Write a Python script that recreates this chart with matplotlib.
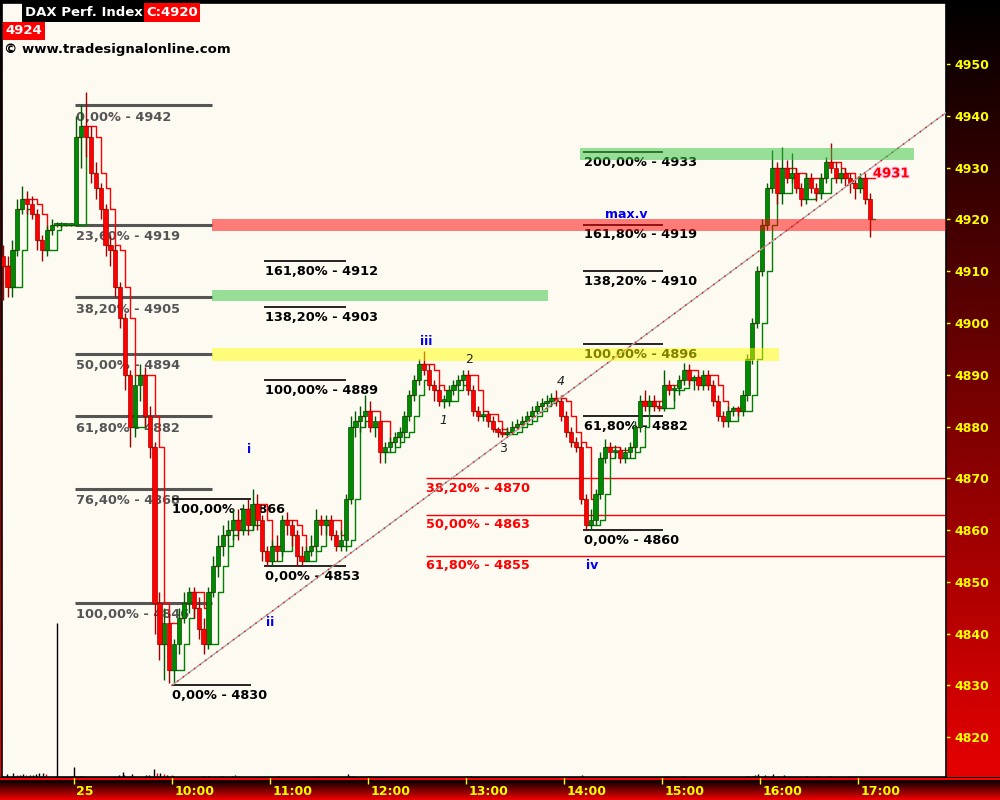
import numpy as np
import pandas as pd
import matplotlib
matplotlib.use('Agg')
import matplotlib.pyplot as plt
from matplotlib.patches import Rectangle
from matplotlib import transforms
import matplotlib.patheffects as pe

plt.rcParams['font.family'] = ['DejaVu Sans']

# ---------------- data ----------------
# 3-minute bars; bar start in minutes from 09:00 on the 25th (negative = previous session)
bar_minutes = np.arange(-45, 489, 3)
first_open = 4913

closes = [
    4911, 4907, 4914, 4922, 4924, 4923, 4921, 4916, 4914, 4918, 4919, 4919, 4919, 4919, 4919,
    4936, 4938, 4936, 4929, 4926, 4922, 4915, 4914, 4907, 4901,
    4890, 4880, 4888, 4890, 4882, 4876, 4846, 4838, 4842, 4833,
    4838, 4843, 4846, 4848, 4845, 4841, 4838, 4848, 4853, 4857,
    4859, 4860, 4862, 4860, 4864, 4861, 4865, 4862, 4856, 4854,
    4857, 4856, 4862, 4861, 4859, 4855, 4854, 4856, 4857, 4862,
    4861, 4862, 4859, 4857, 4858, 4866, 4880, 4881, 4882, 4883,
    4880, 4881, 4875, 4876, 4877, 4878, 4879, 4882, 4886, 4889,
    4892, 4891, 4888, 4887, 4885, 4885, 4887, 4888, 4889, 4890,
    4887, 4883, 4882, 4882.5, 4881, 4879.5, 4879, 4878.5, 4879, 4880,
    4880.5, 4881, 4882, 4883, 4884, 4884.5, 4885, 4885.5, 4885, 4882,
    4879, 4877, 4876, 4866, 4861, 4862, 4867, 4874, 4876, 4875,
    4875.5, 4874, 4875, 4876, 4880, 4885, 4884, 4885, 4884, 4883.5,
    4888, 4887, 4887.5, 4889, 4891, 4889, 4889.5, 4888, 4890, 4888,
    4885, 4882, 4881, 4883, 4883.5, 4883, 4886, 4893, 4900, 4910,
    4919, 4926, 4930, 4925, 4930, 4928, 4929, 4926, 4924, 4928,
    4926, 4925, 4928, 4931, 4930, 4928, 4929, 4928, 4927, 4926,
    4928, 4924, 4920]

highs = [
    4915, 4913, 4916, 4924, 4926.5, 4925.5, 4924.5, 4922, 4917, 4919, 4920, 4919.5, 4919.5, 4919.3, 4919.3,
    4940, 4942, 4944.6, 4938, 4931, 4927, 4923, 4917, 4915, 4908,
    4902, 4891, 4890, 4892, 4891.5, 4884, 4877, 4848, 4845, 4844,
    4839, 4845, 4848, 4849, 4849, 4847, 4843, 4849, 4855, 4859,
    4861, 4862, 4864, 4864, 4865, 4866, 4868, 4867, 4863, 4857,
    4858, 4859, 4863, 4863.5, 4862, 4860, 4857, 4857, 4859, 4864,
    4863, 4863, 4863, 4860, 4860, 4867, 4882, 4883, 4884, 4886,
    4885, 4882, 4881, 4877, 4878, 4879, 4880, 4883, 4887, 4890,
    4893, 4894.5, 4892, 4889, 4888, 4886, 4888, 4889, 4890, 4891,
    4891, 4888, 4884, 4883, 4883, 4882, 4880, 4880, 4880, 4881,
    4881.5, 4882, 4883, 4884, 4885, 4885.5, 4886, 4886.5, 4887, 4886,
    4883, 4880, 4878, 4877, 4867, 4864, 4868, 4875, 4877.5, 4877,
    4876.5, 4876, 4876, 4877, 4881, 4886, 4887, 4886, 4886, 4885,
    4891, 4889, 4888, 4890, 4892.3, 4892, 4890, 4890, 4891, 4891,
    4889, 4886, 4883, 4884, 4884, 4884, 4887, 4894, 4901, 4911,
    4920, 4927, 4933.4, 4931, 4934, 4931.5, 4932.8, 4930, 4927, 4929,
    4929, 4927, 4929, 4932, 4934.8, 4931, 4930, 4930, 4929, 4928,
    4929, 4929, 4925]

lows = [
    4904.5, 4905, 4905, 4913, 4921, 4921, 4920, 4914, 4912, 4913, 4917, 4918.5, 4918.5, 4918.8, 4918.8,
    4919, 4930, 4932, 4927, 4924, 4920, 4913, 4911, 4905, 4899,
    4887, 4876, 4878, 4885, 4880, 4874, 4840, 4835, 4831, 4830.5,
    4830.5, 4836, 4842, 4844, 4843, 4839, 4836, 4837, 4847, 4851,
    4855, 4857, 4858, 4858, 4859, 4859, 4860, 4860, 4854, 4853,
    4853, 4854, 4855, 4859, 4857, 4853, 4853, 4854, 4855, 4856,
    4859, 4859, 4858, 4856, 4856, 4856, 4865, 4878, 4879, 4880,
    4879, 4878, 4873, 4873, 4875, 4876, 4877, 4878, 4881, 4885,
    4888, 4890, 4887, 4885, 4884, 4883.5, 4884, 4886, 4887, 4888,
    4886, 4882, 4881, 4881, 4880, 4879, 4878, 4878, 4878, 4878.5,
    4879.5, 4880, 4880.5, 4881, 4882.5, 4883, 4884, 4884, 4884, 4881,
    4878, 4876, 4875, 4865, 4860, 4860, 4861, 4866, 4873, 4874,
    4874, 4873, 4873, 4874, 4875, 4879, 4883, 4883, 4883, 4883,
    4883, 4886, 4885, 4886, 4888, 4888, 4887, 4887, 4887, 4887,
    4884, 4881, 4880, 4880, 4882, 4882, 4882, 4885, 4892, 4899,
    4909, 4918, 4925, 4923, 4923, 4927, 4927, 4925, 4922.5, 4923,
    4925, 4923.5, 4924, 4927, 4929, 4927, 4927, 4926.5, 4925, 4924,
    4925, 4923, 4916.6]

# volume (small bars at the bottom of the price pane)
vol_minutes = [-41, -37, -35, -33, -31, -29, -27, -25, -23, -21,
               -19, -17, -10, 0, 4, 6, 28, 30, 31, 36,
               44, 46, 49, 51, 53, 55, 57, 60, 61, 79,
               82, 91, 97, 99, 101, 125, 149, 168, 169, 171,
               180, 241, 243, 311, 363, 373, 412, 413, 415, 417,
               419, 423, 428, 431, 435, 449, 455, 463, 475]
vol_values = [3, 4, 2, 2, 3, 2, 2, 2, 3, 4,
              4, 3, 154, 10, 1, 1, 2, 5, 2, 3,
              2, 2, 8, 4, 4, 3, 2, 2, 1, 1,
              1, 1, 1, 2, 1, 1, 1, 3, 1, 1,
              1, 1, 1, 2, 1, 1, 1, 1, 1, 2,
              3, 2, 3, 1, 2, 1, 1, 1, 1]
vol_down = [2, 5, 11, 23, 25, 27, 34, 38, 47]   # indices of down-volume bars

# Fibonacci sets
gray_pct = ['0,00%', '23,60%', '38,20%', '50,00%', '61,80%', '76,40%', '100,00%']
gray_val = [4942, 4919, 4905, 4894, 4882, 4868, 4846]
w1_pct = ['100,00%', '0,00%']
w1_val = [4866, 4830]
w3_pct = ['161,80%', '138,20%', '100,00%', '0,00%']
w3_val = [4912, 4903, 4889, 4853]
w5_pct = ['200,00%', '161,80%', '138,20%', '100,00%', '61,80%', '0,00%']
w5_val = [4933, 4919, 4910, 4896, 4882, 4860]
retr_pct = ['38,20%', '50,00%', '61,80%']
retr_val = [4870, 4863, 4855]

# zones (low, high)
red_zone = (4917.7, 4920.0)
green_zone = (4904.2, 4906.4)
yellow_zone = (4892.7, 4895.2)
green_zone_top = (4931.5, 4933.8)

# Elliott labels
wave_labels = ['i', 'ii', 'iii', 'iv', 'max.v']
wave_m = [107.3, 120.2, 215.7, 317.3, 338.1]
wave_v = [4875.5, 4842.1, 4896.5, 4853.1, 4921.0]
sub_labels = ['1', '2', '3', '4']
sub_m = [226.1, 242.0, 262.8, 298.4]
sub_v = [4881.1, 4893.0, 4875.7, 4888.6]

# trend line (from the 4830 low)
trend_m = [60, 534.05]
trend_v = [4830, 4940.6]

x_tick_m = [0, 60, 120, 180, 240, 300, 360, 420, 480]
x_tick_lab = ['25', '10:00', '11:00', '12:00', '13:00', '14:00', '15:00', '16:00', '17:00']
y_ticks = list(range(4820, 4951, 10))

last_label = '4931'
title_name = 'DAX Perf. Index'
title_close = 'C:4920'
title_last = '4924'
copyright_txt = '\u00a9 www.tradesignalonline.com'

# ---------------- figure ----------------
W, H = 1000, 800
fig = plt.figure(figsize=(10, 8), dpi=100)

# full background gradient (black top -> red bottom)
bg = fig.add_axes([0, 0, 1, 1])
bg.set_zorder(0)
g = np.linspace(0.0, 0.93, H)
img = np.zeros((H, 2, 3))
img[:, :, 0] = g[:, None]
bg.imshow(img, aspect='auto', extent=[0, 1, 0, 1], origin='upper', interpolation='bilinear')
bg.set_axis_off()

# bottom strip
strip = fig.add_axes([0, 0, 1, 23 / H])
strip.set_zorder(1)
simg = np.zeros((23, 2, 3))
simg[1:3, :, 0] = 1.0
simg[3:, :, 0] = np.linspace(0.03, 0.92, 20)[:, None]
strip.imshow(simg, aspect='auto', extent=[0, 1, 0, 1], origin='upper', interpolation='nearest')
strip.set_axis_off()

ax = fig.add_axes([2 / W, 23 / H, 944 / W, 774 / H])
ax.set_zorder(3)
ax.set_facecolor('#fdfaf2')

x_left = (2 - 73.7) / 1.6333
x_right = (946 - 73.7) / 1.6333
ax.set_xlim(x_left, x_right)
ax.set_ylim(4812.33, 4961.78)

# candles
c = np.array(closes, float)
h = np.array(highs, float)
l = np.array(lows, float)
o = np.concatenate([[first_open], c[:-1]])
h = np.maximum(h, np.maximum(o, c))
l = np.minimum(l, np.minimum(o, c))
centers = bar_minutes + 1.5
up = c >= o
body_h = c - o
body_h = np.where(np.abs(body_h) < 0.35, np.where(up, 0.35, -0.35), body_h)

# channel (highest / lowest close of the last 3 bars)
upper = pd.Series(c).rolling(3, min_periods=1).max().to_numpy()
lower = pd.Series(c).rolling(3, min_periods=1).min().to_numpy()
xs = np.append(bar_minutes, bar_minutes[-1] + 3) + 1.5
ax.step(xs, np.append(upper, upper[-1]), where='post', color='#ff0000', lw=1.0, zorder=3.5)
ax.step(xs, np.append(lower, lower[-1]), where='post', color='#008000', lw=1.0, zorder=3.5)

ax.vlines(centers[up], l[up], h[up], colors='#005a00', lw=1.0, zorder=4)
ax.vlines(centers[~up], l[~up], h[~up], colors='#a00000', lw=1.0, zorder=4)
ax.bar(centers[up], body_h[up], bottom=o[up], width=2.6, color='#008a00',
       edgecolor='#004a00', linewidth=0.5, zorder=4.5)
ax.bar(centers[~up], body_h[~up], bottom=o[~up], width=2.6, color='#ff0000',
       edgecolor='#a80000', linewidth=0.5, zorder=4.5)

# volume
vtrans = transforms.blended_transform_factory(ax.transData, ax.transAxes)
vcols = ['#ff0000' if i in vol_down else 'black' for i in range(len(vol_minutes))]
ax.vlines(vol_minutes, 0, np.array(vol_values, float) / 774.0, colors=vcols, lw=1.0,
          transform=vtrans, zorder=2)


def fib_set(pcts, vals, x0, x1, xl, color, lw, dy, zl=2):
    for p, v in zip(pcts, vals):
        ax.plot([x0, x1], [v, v], color=color, lw=lw, zorder=zl, solid_capstyle='butt')
        ax.annotate(f'{p} - {v}', xy=(xl, v), xytext=(0, -dy), textcoords='offset points',
                    ha='left', va='center', fontsize=9.3, fontweight='bold', color=color,
                    zorder=zl, annotation_clip=False)


fib_set(gray_pct, gray_val, 0.8, 84.7, 1.4, '#555555', 2.2, 8.6)
fib_set(w1_pct, w1_val, 60.0, 108.4, 60.0, 'black', 1.2, 7.5)
fib_set(w3_pct, w3_val, 116.5, 166.5, 117.0, 'black', 1.2, 7.5)
fib_set(w5_pct, w5_val, 312.0, 360.6, 312.5, 'black', 1.2, 7.5)
fib_set(retr_pct, retr_val, 215.7, x_right, 216.0, '#ff0000', 1.0, 7.0)

# zones (semi-transparent, over everything)
ax.fill_between([84.7, x_right], red_zone[0], red_zone[1], color='#ff0000', alpha=0.5, lw=0, zorder=6)
ax.fill_between([84.7, 290.4], green_zone[0], green_zone[1], color='#33c63e', alpha=0.5, lw=0, zorder=6)
ax.fill_between([84.7, 431.8], yellow_zone[0], yellow_zone[1], color='#ffff00', alpha=0.5, lw=0, zorder=6)
ax.fill_between([310.0, 514.5], green_zone_top[0], green_zone_top[1], color='#33c63e', alpha=0.5, lw=0, zorder=6)

# trend line
ax.plot(trend_m, trend_v, color='#a8a8a8', lw=1.0, zorder=5)
ax.plot(trend_m, trend_v, color='#ff0000', lw=1.0, dashes=(1, 4), zorder=5.1)

# wave labels
for t, m, v in zip(wave_labels, wave_m, wave_v):
    ax.text(m, v, t, color='#0000ee', fontsize=9, fontweight='bold', ha='center', va='center', zorder=7)
for t, m, v in zip(sub_labels, sub_m, sub_v):
    ax.text(m, v, t, color='#222222', fontsize=9, style='italic' if t in ('1', '4') else 'normal',
            ha='center', va='center', zorder=7)

ax.text(489.3, 4928.8, last_label, color='#ff0000', fontsize=9.5, fontweight='bold', ha='left',
        va='center', zorder=7, path_effects=[pe.withStroke(linewidth=1.5, foreground='#ffc8f0')])

# axes styling
for s in ax.spines.values():
    s.set_color('black')
    s.set_linewidth(1.2)
ax.yaxis.tick_right()
ax.set_yticks(y_ticks)
ax.set_yticklabels([str(v) for v in y_ticks])
ax.tick_params(axis='y', which='both', left=False, right=True, color='#ffff00', labelcolor='#ffff00',
               length=3, width=1, pad=3, direction='out', labelsize=9)
for lab in ax.get_yticklabels():
    lab.set_fontweight('bold')

ax.set_xticks(x_tick_m)
ax.set_xticklabels(x_tick_lab)
ax.tick_params(axis='x', color='#ffff00', labelcolor='#ffff00', length=5, width=1, pad=1,
               direction='out', labelsize=9)
offset = transforms.ScaledTranslation(2 / 72, 0, fig.dpi_scale_trans)
for lab in ax.get_xticklabels():
    lab.set_fontweight('bold')
    lab.set_horizontalalignment('left')
    lab.set_transform(lab.get_transform() + offset)

# header boxes
def fbox(x0, y0, x1, y1, color):
    fig.add_artist(Rectangle((x0 / W, 1 - y1 / H), (x1 - x0) / W, (y1 - y0) / H,
                             transform=fig.transFigure, facecolor=color, edgecolor='none', zorder=10))

fbox(22, 3, 144, 22, 'black')
fbox(144, 3, 200, 22, '#ff0000')
fbox(3, 22, 45, 40, '#ff0000')
fig.text(25 / W, 1 - 12.5 / H, title_name, color='white', fontsize=9.5, fontweight='bold',
         ha='left', va='center', zorder=11)
fig.text(146 / W, 1 - 12.5 / H, title_close, color='white', fontsize=9.5, fontweight='bold',
         ha='left', va='center', zorder=11)
fig.text(5 / W, 1 - 31 / H, title_last, color='white', fontsize=9.5, fontweight='bold',
         ha='left', va='center', zorder=11)
fig.text(4 / W, 1 - 50 / H, copyright_txt, color='black', fontsize=9.5, fontweight='bold',
         ha='left', va='center', zorder=11)

fig.savefig('out.png', dpi=100)
